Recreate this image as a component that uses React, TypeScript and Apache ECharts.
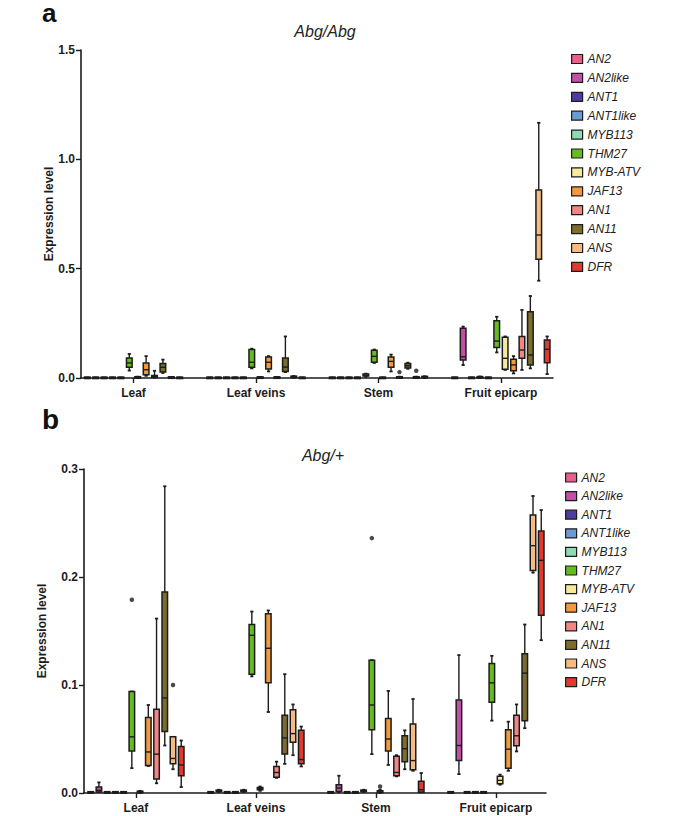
import React, { useEffect, useRef } from "react";
import * as echarts from "echarts";

const genes = ["AN2", "AN2like", "ANT1", "ANT1like", "MYB113", "THM27", "MYB-ATV", "JAF13", "AN1", "AN11", "ANS", "DFR"];
const tissues = ["Leaf", "Leaf veins", "Stem", "Fruit epicarp"];
const geneColors = ["#e8608a", "#c44fa6", "#4d3d9e", "#6b9bd2", "#8edab2", "#66bb1f", "#f6eb9c", "#f39a3c", "#f38585", "#7c6d2c", "#f5bb80", "#e2392e"];

// [min, Q1, median, Q3, max] per gene, Abg/Abg
const homLeaf = [
  [0, 0.0003, 0.0008, 0.0015, 0.002], [0, 0.0003, 0.0008, 0.0015, 0.002], [0, 0.0003, 0.0008, 0.0015, 0.002],
  [0, 0.0003, 0.0008, 0.0015, 0.002], [0, 0.0003, 0.0008, 0.0015, 0.002], [0.034, 0.049, 0.069, 0.091, 0.11],
  [0, 0.001, 0.002, 0.004, 0.006], [0.01, 0.015, 0.038, 0.069, 0.1], [0.001, 0.003, 0.007, 0.012, 0.033],
  [0.023, 0.027, 0.049, 0.066, 0.084], [0, 0.001, 0.002, 0.003, 0.004], [0, 0.0003, 0.0008, 0.0015, 0.002],
];
const homVeins = [
  [0, 0.0003, 0.0008, 0.0015, 0.002], [0, 0.0003, 0.0008, 0.0015, 0.002], [0, 0.0003, 0.0008, 0.0015, 0.002],
  [0, 0.0003, 0.0008, 0.0015, 0.002], [0, 0.0003, 0.0008, 0.0015, 0.002], [0.044, 0.049, 0.072, 0.13, 0.134],
  [0, 0.001, 0.002, 0.003, 0.004], [0.03, 0.041, 0.072, 0.096, 0.1], [0, 0.001, 0.002, 0.003, 0.005],
  [0.027, 0.03, 0.05, 0.091, 0.19], [0.001, 0.003, 0.005, 0.007, 0.009], [0, 0.0003, 0.0008, 0.0015, 0.002],
];
const homStem = [
  [0, 0.0003, 0.0008, 0.0015, 0.002], [0, 0.0003, 0.0008, 0.0015, 0.002], [0, 0.0003, 0.0008, 0.0015, 0.002],
  [0, 0.0003, 0.0008, 0.0015, 0.002], [0.006, 0.009, 0.013, 0.018, 0.02], [0.069, 0.072, 0.099, 0.127, 0.13],
  [0, 0.0003, 0.0008, 0.0015, 0.002], [0.03, 0.049, 0.076, 0.096, 0.107], [0, 0.001, 0.002, 0.004, 0.006],
  [0.042, 0.046, 0.056, 0.066, 0.07], [0, 0.001, 0.002, 0.004, 0.006], [0, 0.002, 0.004, 0.006, 0.008],
];
const homFruit = [
  [0, 0.0003, 0.0008, 0.0015, 0.002], [0.059, 0.082, 0.097, 0.227, 0.235], [0, 0.0003, 0.0008, 0.0015, 0.002],
  [0, 0.001, 0.003, 0.005, 0.007], [0, 0.0003, 0.0008, 0.0015, 0.002], [0.117, 0.139, 0.169, 0.262, 0.28],
  [0.037, 0.04, 0.09, 0.186, 0.19], [0.021, 0.033, 0.06, 0.086, 0.1], [0.037, 0.09, 0.128, 0.19, 0.311],
  [0.044, 0.059, 0.105, 0.303, 0.375], [0.445, 0.543, 0.654, 0.86, 1.167], [0.018, 0.07, 0.131, 0.174, 0.19],
];
// [tissue, gene, value]
const homOutliers = [[2, 8, 0.027], [2, 10, 0.033]];

// Abg/+
const hetLeaf = [
  [0, 0.0003, 0.0005, 0.0008, 0.001], [0.001, 0.001, 0.0025, 0.0055, 0.0098], [0, 0.0003, 0.0005, 0.0008, 0.001],
  [0, 0.0003, 0.0005, 0.0008, 0.001], [0, 0.0003, 0.0005, 0.0008, 0.001], [0.023, 0.039, 0.052, 0.094, 0.094],
  [0, 0.0005, 0.001, 0.0015, 0.002], [0.025, 0.0255, 0.038, 0.07, 0.0815], [0.009, 0.013, 0.036, 0.0775, 0.1615],
  [0.044, 0.057, 0.088, 0.186, 0.284], [0.022, 0.027, 0.032, 0.052, 0.052], [0.0055, 0.016, 0.026, 0.043, 0.0486],
];
const hetVeins = [
  [0, 0.0003, 0.0005, 0.0008, 0.001], [0.001, 0.0015, 0.002, 0.0025, 0.003], [0, 0.0003, 0.0005, 0.0008, 0.001],
  [0, 0.0003, 0.0005, 0.0008, 0.001], [0.001, 0.0015, 0.002, 0.0025, 0.003], [0.108, 0.11, 0.146, 0.156, 0.168],
  [0.002, 0.003, 0.004, 0.005, 0.006], [0.075, 0.102, 0.134, 0.166, 0.169], [0.014, 0.0145, 0.019, 0.0246, 0.029],
  [0.027, 0.036, 0.051, 0.072, 0.11], [0.035, 0.047, 0.055, 0.077, 0.082], [0.0246, 0.027, 0.031, 0.058, 0.0615],
];
const hetStem = [
  [0, 0.0003, 0.0005, 0.0008, 0.001], [0.0005, 0.0015, 0.0046, 0.0077, 0.016], [0, 0.0003, 0.0005, 0.0008, 0.001],
  [0, 0.0003, 0.0005, 0.0008, 0.001], [0.001, 0.0015, 0.002, 0.0025, 0.003], [0.036, 0.0585, 0.0815, 0.123, 0.123],
  [0, 0.0005, 0.001, 0.002, 0.003], [0.026, 0.039, 0.05, 0.069, 0.0945], [0.0154, 0.016, 0.019, 0.034, 0.035],
  [0.022, 0.029, 0.041, 0.053, 0.058], [0.0206, 0.0215, 0.03, 0.064, 0.087], [0.0006, 0.0008, 0.003, 0.0108, 0.0185],
];
const hetFruit = [
  [0, 0.0003, 0.0005, 0.0008, 0.001], [0.0175, 0.03, 0.044, 0.086, 0.1277], [0, 0.0003, 0.0005, 0.0008, 0.001],
  [0, 0.0003, 0.0005, 0.0008, 0.001], [0, 0.0003, 0.0005, 0.0008, 0.001], [0.067, 0.084, 0.102, 0.12, 0.127],
  [0.0077, 0.0086, 0.0117, 0.0154, 0.017], [0.0206, 0.023, 0.0406, 0.0585, 0.066], [0.0385, 0.0437, 0.053, 0.072, 0.082],
  [0.06, 0.067, 0.111, 0.129, 0.156], [0.204, 0.206, 0.229, 0.2575, 0.275], [0.1415, 0.1646, 0.2154, 0.2425, 0.262],
];
const hetOutliers = [[0, 5, 0.179], [0, 10, 0.1], [2, 5, 0.236], [2, 6, 0.006]];

const yTicksHom = [0, 0.5, 1.0, 1.5];
const yTicksHet = [0, 0.1, 0.2, 0.3];

const STEP = 0.0686; // spacing between genes within a tissue, in x-axis units
const BOX_W = 0.046;
const FONT = '"Liberation Sans", Arial, sans-serif';
const INK = "#1c1c1c";

function makeRender(g: number) {
  return (params: any, api: any) => {
    const t = api.value(0);
    const xc = t + (g - 5.5) * STEP;
    const pMin = api.coord([xc, api.value(1)]);
    const pQ1 = api.coord([xc, api.value(2)]);
    const pMed = api.coord([xc, api.value(3)]);
    const pQ3 = api.coord([xc, api.value(4)]);
    const pMax = api.coord([xc, api.value(5)]);
    const w = api.size([BOX_W, 0])[0];
    const x = pMin[0];
    let top = pQ3[1];
    let bot = pQ1[1];
    if (bot - top < 1.5) {
      const m = (top + bot) / 2;
      top = m - 0.75;
      bot = m + 0.75;
    }
    const ls = { stroke: INK, lineWidth: 1.4, fill: null };
    const cap = 1.6;
    return {
      type: "group",
      children: [
        { type: "line", shape: { x1: x, y1: pMax[1], x2: x, y2: pQ3[1] }, style: ls },
        { type: "line", shape: { x1: x, y1: pQ1[1], x2: x, y2: pMin[1] }, style: ls },
        { type: "line", shape: { x1: x - cap, y1: pMax[1], x2: x + cap, y2: pMax[1] }, style: { ...ls, lineWidth: 1.8 } },
        { type: "line", shape: { x1: x - cap, y1: pMin[1], x2: x + cap, y2: pMin[1] }, style: { ...ls, lineWidth: 1.8 } },
        { type: "rect", shape: { x: x - w / 2, y: top, width: w, height: bot - top }, style: { fill: geneColors[g], stroke: INK, lineWidth: 1.5 } },
        { type: "line", shape: { x1: x - w / 2, y1: pMed[1], x2: x + w / 2, y2: pMed[1] }, style: ls },
      ],
    };
  };
}

function panelSeries(rows: number[][][], outliers: number[][], axisIdx: number) {
  const list: any[] = genes.map((name, g) => ({
    type: "custom",
    name,
    xAxisIndex: axisIdx,
    yAxisIndex: axisIdx,
    itemStyle: { color: geneColors[g] },
    encode: { x: 0, y: [1, 2, 3, 4, 5] },
    renderItem: makeRender(g),
    data: rows.map((tissueRows, ti) => [ti, ...tissueRows[g]]),
    clip: false,
  }));
  list.push({
    type: "scatter",
    name: "outliers",
    xAxisIndex: axisIdx,
    yAxisIndex: axisIdx,
    symbol: "circle",
    symbolSize: 4.5,
    itemStyle: { color: INK },
    data: outliers.map(([t, g, v]) => [t + (g - 5.5) * STEP, v]),
  });
  return list;
}

function xAxisDef(grid: number, min: number, max: number, margin: number) {
  return {
    type: "value",
    gridIndex: grid,
    min,
    max,
    splitLine: { show: false },
    axisLine: { show: true, onZero: false, lineStyle: { color: INK, width: 1.6 } },
    axisTick: { show: true, length: 5, inside: false, customValues: [0, 1, 2, 3], lineStyle: { color: INK, width: 1.4 } },
    axisLabel: {
      customValues: [0, 1, 2, 3],
      formatter: (v: number) => tissues[Math.round(v)] ?? "",
      fontFamily: FONT,
      fontWeight: "bold",
      fontSize: 12,
      color: INK,
      margin,
    },
  };
}

function yAxisDef(grid: number, ticks: number[], nameGap: number) {
  return {
    type: "value",
    gridIndex: grid,
    min: ticks[0],
    max: ticks[ticks.length - 1],
    interval: ticks[1] - ticks[0],
    name: "Expression level",
    nameLocation: "middle",
    nameGap,
    nameMoveOverlap: false,
    nameTextStyle: { fontFamily: FONT, fontWeight: "bold", fontSize: 12, color: INK },
    splitLine: { show: false },
    axisLine: { show: true, onZero: false, lineStyle: { color: INK, width: 1.6 } },
    axisTick: { show: true, length: 5, lineStyle: { color: INK, width: 1.4 } },
    axisLabel: {
      formatter: (v: number) => v.toFixed(1),
      fontFamily: FONT,
      fontWeight: "bold",
      fontSize: 12,
      color: INK,
      margin: 6,
    },
  };
}

function legendDef(left: number, top: number, gap: number) {
  return {
    data: genes,
    orient: "vertical",
    left,
    top,
    padding: 0,
    icon: "rect",
    itemWidth: 11,
    itemHeight: 9,
    itemGap: gap,
    selectedMode: false,
    itemStyle: { borderColor: INK, borderWidth: 1.2 },
    textStyle: { fontFamily: FONT, fontStyle: "italic", fontSize: 12, color: "#222" },
  };
}

export default function App() {
  const ref = useRef<HTMLDivElement>(null);
  useEffect(() => {
    if (!ref.current) return;
    const chart = echarts.init(ref.current, undefined, { renderer: "svg" });
    chart.setOption({
      animation: false,
      backgroundColor: "#ffffff",
      textStyle: { fontFamily: FONT },
      grid: [
        { left: 81, top: 50, width: 472, height: 328 },
        { left: 84, top: 469, width: 462, height: 324 },
      ],
      xAxis: [xAxisDef(0, -0.4286, 3.425, 9), xAxisDef(1, -0.433, 3.417, 9)],
      yAxis: [yAxisDef(0, yTicksHom, 26), yAxisDef(1, yTicksHet, 36)],
      legend: [legendDef(571, 53, 6.9), legendDef(565, 471.5, 6.6)],
      graphic: [
        { type: "text", x: 42, y: 0, style: { text: "a", fontFamily: FONT, fontWeight: "bold", fontSize: 26, fill: "#111", verticalAlign: "top" } },
        { type: "text", x: 42, y: 419, style: { text: "b", fontFamily: FONT, fontWeight: "bold", fontSize: 28, fill: "#111", verticalAlign: "middle" } },
        { type: "text", x: 325, y: 31, style: { text: "Abg/Abg", fontFamily: FONT, fontStyle: "italic", fontSize: 16, fill: "#222", align: "center", verticalAlign: "middle" } },
        { type: "text", x: 323, y: 455, style: { text: "Abg/+", fontFamily: FONT, fontStyle: "italic", fontSize: 16, fill: "#222", align: "center", verticalAlign: "middle" } },
      ],
      series: [
        ...panelSeries([homLeaf, homVeins, homStem, homFruit], homOutliers, 0),
        ...panelSeries([hetLeaf, hetVeins, hetStem, hetFruit], hetOutliers, 1),
      ],
    });
    return () => chart.dispose();
  }, []);
  return <div ref={ref} style={{ position: "fixed", left: 0, top: 0, width: 685, height: 816, background: "#fff" }} />;
}
